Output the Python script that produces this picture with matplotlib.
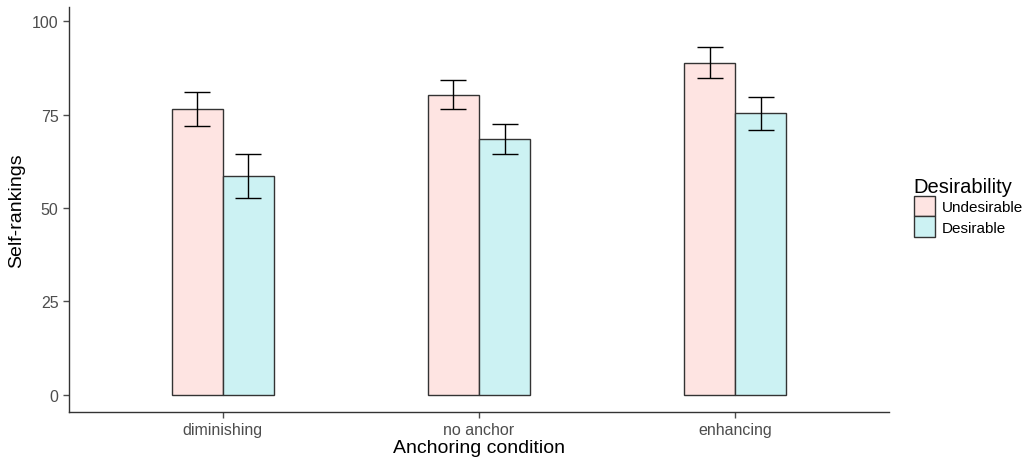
import matplotlib.pyplot as plt
import matplotlib.patches as mpatches
import numpy as np

plt.rcParams['font.family'] = ['Liberation Sans', 'DejaVu Sans']

conditions = ['diminishing', 'no anchor', 'enhancing']
groups = ['Undesirable', 'Desirable']
undesirable = [76.5, 80.3, 88.9]
undesirable_err = [4.6, 3.9, 4.2]
desirable = [58.6, 68.4, 75.3]
desirable_err = [5.9, 4.0, 4.5]
colors = ['#FEE4E2', '#CCF2F3']

fig = plt.figure(figsize=(10.31, 4.64), dpi=100)
ax = fig.add_axes([69/1031, 51/464, 820/1031, 405/464])

x = np.arange(1, len(conditions) + 1)
w = 0.2
for i, (vals, errs) in enumerate([(undesirable, undesirable_err), (desirable, desirable_err)]):
    pos = x + (i - 0.5) * w
    ax.bar(pos, vals, width=w, color=colors[i], edgecolor='#333333', linewidth=1.0, zorder=2)
    ax.errorbar(pos, vals, yerr=errs, fmt='none', ecolor='black', elinewidth=1.0,
                capsize=9.3, capthick=1.0, zorder=3)

ax.set_xlim(0.4, 3.6)
ax.set_ylim(-4.6, 103.8)
ax.set_xticks(x)
ax.set_xticklabels(conditions)
ax.set_yticks([0, 25, 50, 75, 100])
ax.tick_params(colors='#4D4D4D', labelsize=11.5, length=4, width=1)
for s in ['top', 'right']:
    ax.spines[s].set_visible(False)
for s in ['left', 'bottom']:
    ax.spines[s].set_color('#333333')
    ax.spines[s].set_linewidth(1)
ax.set_xlabel('Anchoring condition', fontsize=14, labelpad=1)
ax.set_ylabel('Self-rankings', fontsize=14, labelpad=5)

handles = [mpatches.Patch(facecolor=colors[i], edgecolor='#333333', linewidth=1.0, label=g)
           for i, g in enumerate(groups)]
leg = fig.legend(handles=handles, title='Desirability', loc='upper left',
                 bbox_to_anchor=(900/1031, 1 - 164/464), frameon=False,
                 fontsize=11, title_fontsize=14.5, handlelength=1.4, handleheight=1.7,
                 handletextpad=0.45, labelspacing=0.0)
leg._legend_box.align = 'left'

fig.savefig('out.png', dpi=100)
